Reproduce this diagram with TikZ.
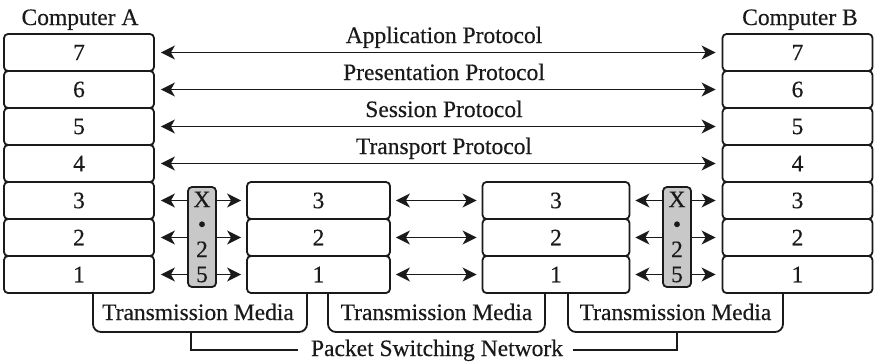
\documentclass[tikz,border=0pt]{standalone}
\usepackage{fontspec}
\setmainfont{Liberation Serif}[FakeBold=0.4]
\usetikzlibrary{arrows.meta}
\definecolor{ink}{HTML}{1A1A1A}
\definecolor{xfill}{HTML}{C8C8C8}
\begin{document}
\begin{tikzpicture}[x=1pt,y=-1pt,
  every node/.style={text=ink},
  tx/.style={font=\fontsize{23.5}{28}\selectfont},
  lay/.style={draw=ink, rounded corners=4pt, line width=1.8pt, minimum height=37pt, inner sep=0pt, tx},
  arr/.style={draw=ink, line width=1.7pt,
    {Stealth[length=14pt,width=14pt,inset=4pt]}-{Stealth[length=14pt,width=14pt,inset=4pt]}},
  x25/.style={draw=ink, fill=xfill, rounded corners=4pt, line width=1.8pt,
    minimum width=28pt, minimum height=100pt, inner sep=0pt, align=center,
    font=\fontsize{23.5}{25}\selectfont},
  brk/.style={draw=ink, line width=1.8pt, rounded corners=8pt},
  lbl/.style={tx, anchor=base}
]
\useasboundingbox (0,0) rectangle (876,362);

% computer labels
\node[lbl] (ca) at (80,25) {Computer A};
\node[lbl] (cb) at (800,25) {Computer B};

% layer stacks
\foreach \n [count=\k from 0] in {7,6,5,4,3,2,1} {
  \node[lay, minimum width=150pt] (A\n) at (79, 52.5+37*\k) {\n};
  \node[lay, minimum width=150pt] (B\n) at (797.5, 52.5+37*\k) {\n};
}
\foreach \n [count=\k from 0] in {3,2,1} {
  \node[lay, minimum width=143pt] (L\n) at (318.5, 200.5+37*\k) {\n};
  \node[lay, minimum width=147pt] (R\n) at (556, 200.5+37*\k) {\n};
}

% peer protocols
\foreach \n in {7,6,5,4} {
  \draw[arr, shorten <=6pt, shorten >=6pt] (A\n.east) -- (B\n.west);
}
\node[lbl] (p7) at (444, 43) {Application Protocol};
\node[lbl] (p6) at (444, 80) {Presentation Protocol};
\node[lbl] (p5) at (444, 117) {Session Protocol};
\node[lbl] (p4) at (444, 154) {Transport Protocol};

% lower layer arrows
\foreach \n in {3,2,1} {
  \draw[arr, shorten <=6pt, shorten >=5pt] (A\n.east) -- (L\n.west);
  \draw[arr, shorten <=5pt, shorten >=5pt] (L\n.east) -- (R\n.west);
  \draw[arr, shorten <=5pt, shorten >=6pt] (R\n.east) -- (B\n.west);
}

% X.25 boxes
\node[x25] (xa) at (202, 237) {X\\\textbullet\\2\\5};
\node[x25] (xb) at (677, 237) {X\\\textbullet\\2\\5};

% transmission media brackets
\node[lbl] (tm1) at (198, 320) {Transmission Media};
\node[lbl] (tm2) at (436.5, 320) {Transmission Media};
\node[lbl] (tm3) at (675.5, 320) {Transmission Media};
\draw[brk] (93,293) -- (93,332) -- (307,332) -- (307,293);
\draw[brk] (328,293) -- (328,332) -- (545,332) -- (545,293);
\draw[brk] (568,293) -- (568,332) -- (783,332) -- (783,293);

% packet switching network
\coordinate (m1) at (191,332);
\coordinate (m3) at (677,332);
\node[lbl] (psn) at (437, 356) {Packet Switching Network};
\draw[draw=ink, line width=1.8pt] (m1) |- ([xshift=-10pt]psn.west);
\draw[draw=ink, line width=1.8pt] (m3) |- ([xshift=6pt]psn.east);
\end{tikzpicture}
\end{document}
